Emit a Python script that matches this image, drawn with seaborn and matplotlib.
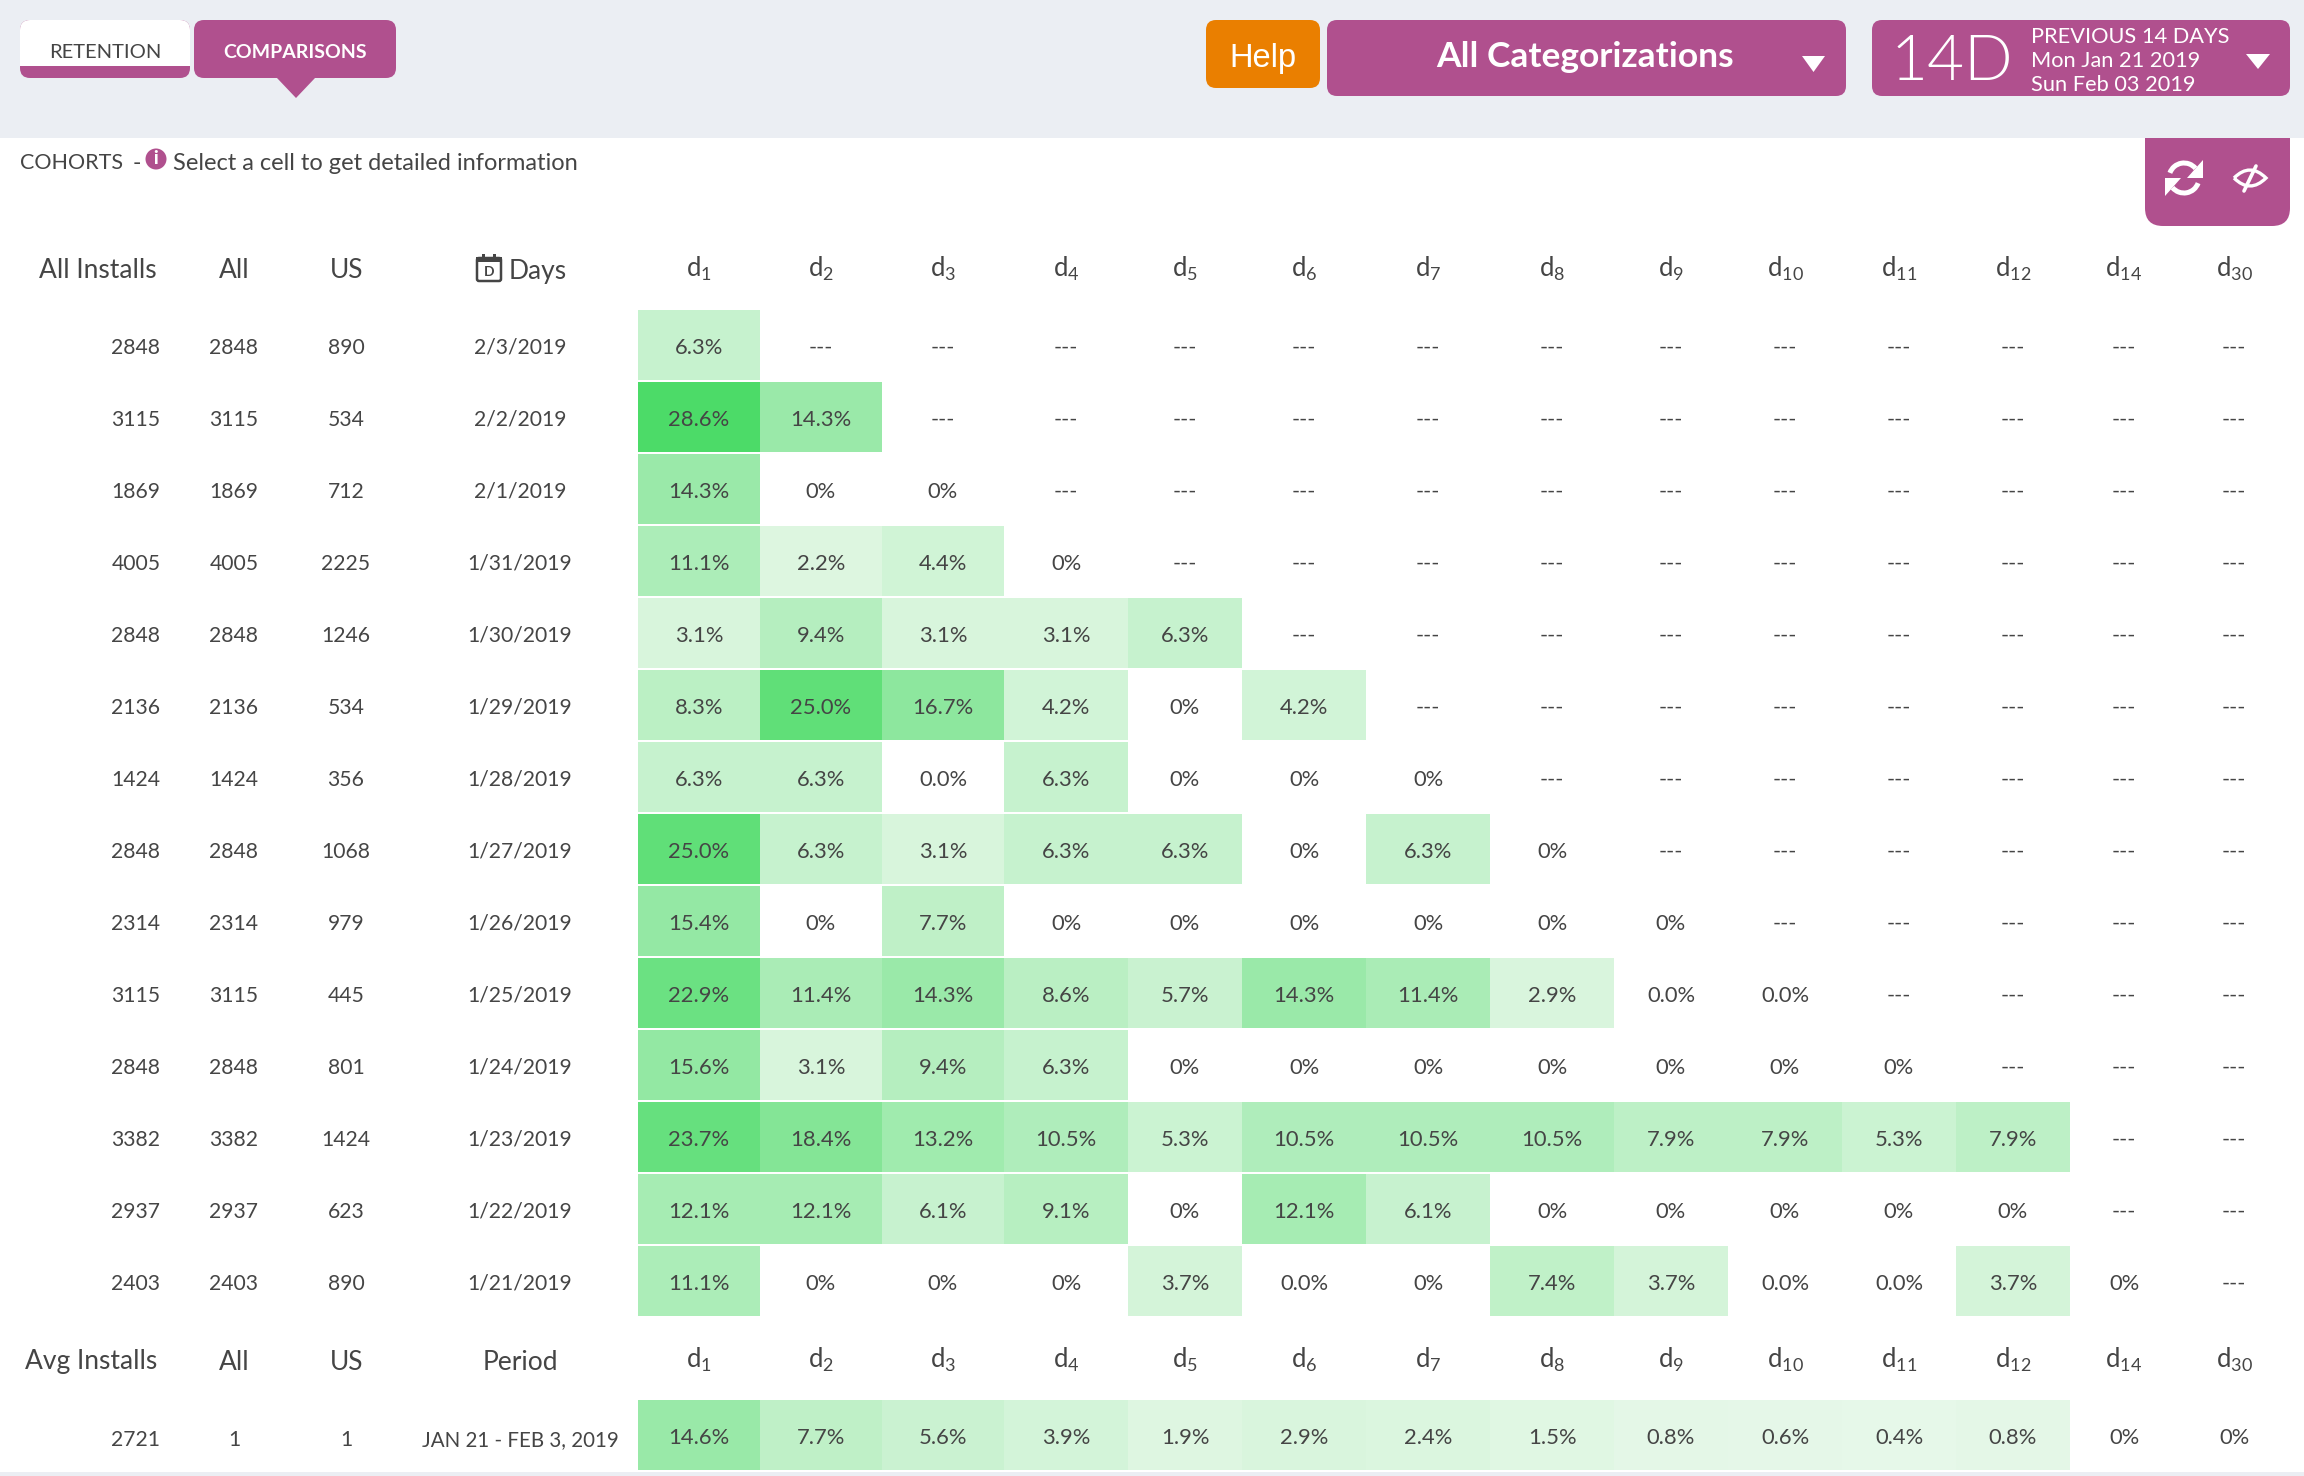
import numpy as np
import pandas as pd
import seaborn as sns
import matplotlib.pyplot as plt
from matplotlib.colors import LinearSegmentedColormap
from matplotlib.patches import FancyBboxPatch, Polygon, Rectangle, Circle, Arc, PathPatch
from matplotlib.path import Path

# table data
day_cols = ['1', '2', '3', '4', '5', '6', '7', '8', '9', '10', '11', '12', '14', '30']
all_installs = [2848, 3115, 1869, 4005, 2848, 2136, 1424, 2848, 2314, 3115, 2848, 3382, 2937, 2403]
all_counts = [2848, 3115, 1869, 4005, 2848, 2136, 1424, 2848, 2314, 3115, 2848, 3382, 2937, 2403]
us_counts = [890, 534, 712, 2225, 1246, 534, 356, 1068, 979, 445, 801, 1424, 623, 890]
cohort_days = ['2/3/2019', '2/2/2019', '2/1/2019', '1/31/2019', '1/30/2019', '1/29/2019', '1/28/2019',
               '1/27/2019', '1/26/2019', '1/25/2019', '1/24/2019', '1/23/2019', '1/22/2019', '1/21/2019']
cells = [
    ['6.3%', '---', '---', '---', '---', '---', '---', '---', '---', '---', '---', '---', '---', '---'],
    ['28.6%', '14.3%', '---', '---', '---', '---', '---', '---', '---', '---', '---', '---', '---', '---'],
    ['14.3%', '0%', '0%', '---', '---', '---', '---', '---', '---', '---', '---', '---', '---', '---'],
    ['11.1%', '2.2%', '4.4%', '0%', '---', '---', '---', '---', '---', '---', '---', '---', '---', '---'],
    ['3.1%', '9.4%', '3.1%', '3.1%', '6.3%', '---', '---', '---', '---', '---', '---', '---', '---', '---'],
    ['8.3%', '25.0%', '16.7%', '4.2%', '0%', '4.2%', '---', '---', '---', '---', '---', '---', '---', '---'],
    ['6.3%', '6.3%', '0.0%', '6.3%', '0%', '0%', '0%', '---', '---', '---', '---', '---', '---', '---'],
    ['25.0%', '6.3%', '3.1%', '6.3%', '6.3%', '0%', '6.3%', '0%', '---', '---', '---', '---', '---', '---'],
    ['15.4%', '0%', '7.7%', '0%', '0%', '0%', '0%', '0%', '0%', '---', '---', '---', '---', '---'],
    ['22.9%', '11.4%', '14.3%', '8.6%', '5.7%', '14.3%', '11.4%', '2.9%', '0.0%', '0.0%', '---', '---', '---', '---'],
    ['15.6%', '3.1%', '9.4%', '6.3%', '0%', '0%', '0%', '0%', '0%', '0%', '0%', '---', '---', '---'],
    ['23.7%', '18.4%', '13.2%', '10.5%', '5.3%', '10.5%', '10.5%', '10.5%', '7.9%', '7.9%', '5.3%', '7.9%', '---', '---'],
    ['12.1%', '12.1%', '6.1%', '9.1%', '0%', '12.1%', '6.1%', '0%', '0%', '0%', '0%', '0%', '---', '---'],
    ['11.1%', '0%', '0%', '0%', '3.7%', '0.0%', '0%', '7.4%', '3.7%', '0.0%', '0.0%', '3.7%', '0%', '---'],
]
avg_cells = [['14.6%', '7.7%', '5.6%', '3.9%', '1.9%', '2.9%', '2.4%', '1.5%', '0.8%', '0.6%', '0.4%', '0.8%', '0%', '0%']]
avg_row = ['2721', '1', '1', 'JAN 21 - FEB 3, 2019']

W, H = 2304, 1476
PURPLE = '#b0508e'
INK = '#454545'
FONT = 'Lato'

# column edges in pixels, the columns are not all the same width
col_edges = [638, 760, 882, 1004, 1128, 1242, 1366, 1490, 1614, 1728, 1842, 1956, 2070, 2178, 2290]

sns.set_theme(style='white')
plt.rcParams['font.family'] = [FONT, 'DejaVu Sans']
plt.rcParams['mathtext.fontset'] = 'custom'
plt.rcParams['mathtext.rm'] = FONT
plt.rcParams['mathtext.default'] = 'rm'

fig = plt.figure(figsize=(W / 100, H / 100), dpi=100, facecolor='white')

# white stays white, anything above zero starts at a pale green
retention_cmap = LinearSegmentedColormap.from_list(
    'retention', [(0, '#ffffff'), (0.001, '#e8f8ea'), (1, '#4cdb68')])


def to_number(s):
    return 0.0 if s == '---' else float(s.rstrip('%'))


def draw_block(labels, top, bottom, pad):
    # one seaborn heatmap per day column so the widths can differ
    frame = pd.DataFrame(labels, columns=day_cols)
    values = frame.map(to_number)
    for i, day in enumerate(day_cols):
        x0, x1 = col_edges[i], col_edges[i + 1]
        ax = fig.add_axes([x0 / W, 1 - bottom / H, (x1 - x0) / W, (bottom - top) / H])
        sns.heatmap(values[[day]], ax=ax, vmin=0, vmax=28.6, cmap=retention_cmap, cbar=False,
                    annot=frame[[day]].values, fmt='', yticklabels=False,
                    xticklabels=['d$_{%s}$' % day],
                    annot_kws={'color': INK, 'fontsize': 15.8})
        ax.xaxis.tick_top()
        ax.tick_params(length=0, pad=pad, labelsize=18.5, labelcolor=INK, rotation=0)
        ax.hlines(np.arange(len(labels) + 1), 0, 1, color='white', lw=1.44)
        # nudge the annotations down a little
        for t in ax.texts:
            tx, ty = t.get_position()
            t.set_position((tx, ty + 3 * len(labels) / (bottom - top)))
        ax.set_xlabel('')
        ax.set_ylabel('')


bg = fig.add_axes([0, 0, 1, 1])
bg.set_xlim(0, W)
bg.set_ylim(H, 0)
bg.axis('off')


def box(x0, y0, x1, y1, color, r=10):
    bg.add_patch(FancyBboxPatch((x0 + r, y0 + r), x1 - x0 - 2 * r, y1 - y0 - 2 * r,
                                boxstyle='round,pad=%d,rounding_size=%d' % (r, r),
                                fc=color, ec='none'))


def label(x, y, s, size=16, weight=400, color=INK, ha='center', family=None):
    # Lato sits a bit high with va=center, so push it down 3px
    bg.text(x, y + 3, s, fontsize=size, fontweight=weight, color=color, ha=ha, va='center',
            family=family or FONT)


# refresh / hide panel, its top is hidden behind the band
box(2145, 100, 2290, 226, PURPLE, r=18)

# top band
bg.add_patch(Rectangle((0, 0), W, 138, fc='#ebeef3', ec='none'))
bg.add_patch(Rectangle((0, 1472), W, 4, fc='#ebeef3', ec='none'))

box(20, 20, 190, 78, PURPLE)
bg.add_patch(FancyBboxPatch((30, 30), 150, 26, boxstyle='round,pad=10,rounding_size=10', fc='white', ec='none'))
bg.add_patch(Rectangle((20, 56), 170, 10, fc='white', ec='none'))
label(105, 49, 'RETENTION', size=14.5)
box(194, 20, 396, 78, PURPLE)
bg.add_patch(Polygon([(277, 78), (315, 78), (296, 98)], fc=PURPLE, ec='none'))
label(295, 49, 'COMPARISONS', size=14, weight=700, color='white')

box(1206, 20, 1320, 88, '#ea7f00')
label(1263, 55, 'Help', size=23.5, weight=400, color='white', family='Liberation Sans')
box(1327, 20, 1846, 96, PURPLE)
label(1585, 54, 'All Categorizations', size=25.5, weight=700, color='white')
bg.add_patch(Polygon([(1802, 56), (1825, 56), (1813.5, 72)], fc='white', ec='none'))

box(1872, 20, 2290, 96, PURPLE)
label(1952, 59, '14D', size=46, weight=300, color='white')
label(2031, 34, 'PREVIOUS 14 DAYS', size=15.7, color='white', ha='left')
label(2031, 58, 'Mon Jan 21 2019', size=15.7, color='white', ha='left')
label(2031, 82, 'Sun Feb 03 2019', size=15.7, color='white', ha='left')
bg.add_patch(Polygon([(2246, 54), (2270, 54), (2258, 69)], fc='white', ec='none'))

bg.add_patch(Arc((2184, 178), 30, 30, theta1=200, theta2=320, ec='white', lw=3.6))
bg.add_patch(Arc((2184, 178), 30, 30, theta1=20, theta2=140, ec='white', lw=3.6))
bg.add_patch(Polygon([(2203, 160), (2203, 178), (2187, 178)], fc='white', ec='none'))
bg.add_patch(Polygon([(2165, 196), (2165, 178), (2181, 178)], fc='white', ec='none'))
eye = Path([(2234, 178), (2250, 162), (2266, 178), (2250, 194), (2234, 178)],
           [Path.MOVETO, Path.CURVE3, Path.CURVE3, Path.CURVE3, Path.CURVE3])
bg.add_patch(PathPatch(eye, fc='none', ec='white', lw=2.4))
bg.plot([2244, 2256], [191, 166], color='white', lw=2.6)

# note line
label(20, 160, 'COHORTS', size=15.5, ha='left')
label(133, 160, '-', size=16.5, ha='left')
bg.add_patch(Circle((156, 159), 10.5, fc=PURPLE, ec='none'))
label(156, 155, 'i', size=13, weight=900, color='white')
label(173, 160, 'Select a cell to get detailed information', size=17, ha='left')

# left hand columns
col_x = [136, 234, 346, 520]
label(98, 268, 'All Installs', size=19)
label(234, 268, 'All', size=19)
label(347, 268, 'US', size=19)
bg.add_patch(FancyBboxPatch((478, 259), 22, 21, boxstyle='round,pad=1,rounding_size=2', fc='none', ec=INK, lw=1.8))
bg.add_patch(Rectangle((476, 257), 26, 5, fc=INK, ec='none'))
bg.add_patch(Rectangle((482, 254), 3, 7, fc=INK, ec='none'))
bg.add_patch(Rectangle((493, 254), 3, 7, fc=INK, ec='none'))
label(489, 269, 'D', size=10, weight=700)
label(509, 268, 'Days', size=19, ha='left')

for i in range(len(all_installs)):
    y = 345 + 72 * i
    label(col_x[0], y, str(all_installs[i]), size=15.2)
    label(col_x[1], y, str(all_counts[i]), size=15.2)
    label(col_x[2], y, str(us_counts[i]), size=15.2)
    label(col_x[3], y, cohort_days[i], size=15.2)

label(91, 1359, 'Avg Installs', size=19)
label(234, 1359, 'All', size=19)
label(347, 1359, 'US', size=19)
label(520, 1359, 'Period', size=19)
for x, s in zip(col_x, avg_row):
    label(x, 1437, s, size=15.2 if s[0] != 'J' else 14.8)

draw_block(cells, 309, 1317, 19)
draw_block(avg_cells, 1399, 1471, 18)

fig.savefig('out.png', dpi=100)
